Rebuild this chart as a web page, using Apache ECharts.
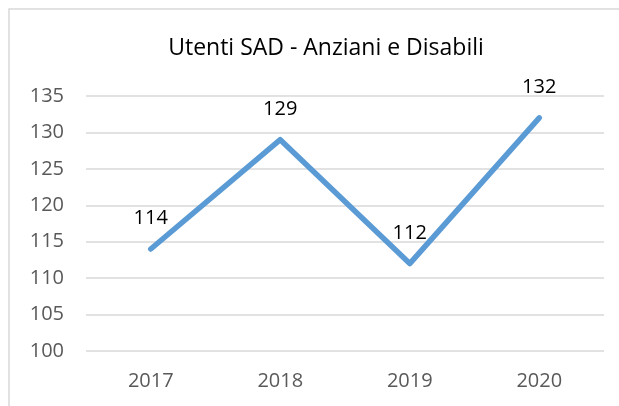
<!DOCTYPE html>
<html><head><meta charset="utf-8">
<script src="https://cdn.jsdelivr.net/npm/echarts@6/dist/echarts.min.js"></script>
<style>html,body{margin:0;padding:0;background:#fff}#c{width:619px;height:406px}</style>
</head><body><div id="c"></div>
<script>
const categories = ['2017', '2018', '2019', '2020'];
const values = [114, 129, 112, 132];
const yTicks = [100, 105, 110, 115, 120, 125, 130, 135];
const font = 'Open Sans, Noto Sans, sans-serif';
const chart = echarts.init(document.getElementById('c'));
chart.setOption({
  animation: false,
  backgroundColor: '#fff',
  title: {
    text: 'Utenti SAD - Anziani e Disabili',
    left: 321, textAlign: 'center', top: 32,
    textStyle: { fontFamily: font, fontSize: 23, fontWeight: 'normal', color: '#000' }
  },
  graphic: [{
    type: 'rect', shape: { x: 9, y: 9, width: 700, height: 500 },
    style: { fill: 'none', stroke: '#d9d9d9', lineWidth: 1.5 }, silent: true
  }],
  grid: { left: 86, right: 15, top: 96, bottom: 55 },
  xAxis: {
    type: 'category', data: categories, boundaryGap: true,
    axisLine: { show: false }, axisTick: { show: false },
    axisLabel: { color: '#595959', fontSize: 20, fontFamily: font, margin: 20 }
  },
  yAxis: {
    type: 'value', min: yTicks[0], max: yTicks[yTicks.length - 1], interval: 5,
    axisLine: { show: false }, axisTick: { show: false },
    axisLabel: { color: '#595959', fontSize: 20, fontFamily: font, margin: 22 },
    splitLine: { lineStyle: { color: '#d9d9d9', width: 1.5 } }
  },
  series: [{
    type: 'line', data: values, symbol: 'circle', symbolSize: 1, showSymbol: true,
    itemStyle: { color: '#5B9BD5', opacity: 0 },
    lineStyle: { color: '#5B9BD5', width: 5.5, cap: 'round', join: 'round' },
    label: { show: true, position: 'top', distance: 20, color: '#000', fontSize: 20, fontFamily: font, opacity: 1 }
  }]
});
</script></body></html>
